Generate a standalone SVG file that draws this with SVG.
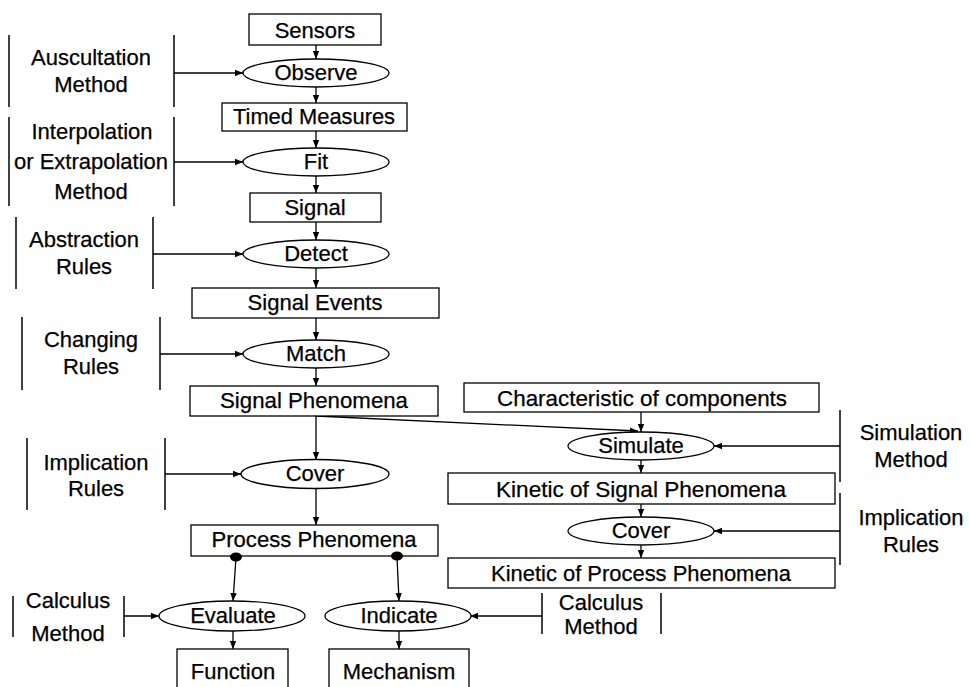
<svg xmlns="http://www.w3.org/2000/svg" width="970" height="687" viewBox="0 0 970 687">
<defs>
<marker id="ah" markerWidth="8" markerHeight="8" refX="8" refY="4" orient="auto" markerUnits="userSpaceOnUse">
<path d="M0,0.8 L8,4 L0,7.2 Z" fill="#000"/>
</marker>
<style>
text{font-family:"Liberation Sans",Arial,sans-serif;font-size:22px;fill:#000;stroke:#000;stroke-width:0.25;text-anchor:middle}
.b{fill:#fff;stroke:#000;stroke-width:1.3}
.c line{stroke:#000;stroke-width:1.3;fill:none}
.a{marker-end:url(#ah)}
.bar{stroke:#000;stroke-width:1.5}
.dot{fill:#000}
</style>
</defs>
<rect width="970" height="687" fill="#fff"/>

<g class="c" id="connectors">
<line class="a" x1="316" y1="45" x2="316" y2="59"/>
<line class="a" x1="316" y1="87" x2="316" y2="103"/>
<line class="a" x1="316" y1="131" x2="316" y2="148"/>
<line class="a" x1="316" y1="176" x2="316" y2="193"/>
<line class="a" x1="316" y1="222" x2="316" y2="240"/>
<line class="a" x1="316" y1="268" x2="316" y2="288"/>
<line class="a" x1="316" y1="318" x2="316" y2="340"/>
<line class="a" x1="316" y1="368" x2="316" y2="386"/>
<line class="a" x1="316" y1="416" x2="316" y2="460"/>
<line class="a" x1="316" y1="489" x2="316" y2="525"/>
<line class="a" x1="316" y1="416" x2="638" y2="431"/>
<line class="a" x1="641" y1="412" x2="641" y2="432"/>
<line class="a" x1="641" y1="460" x2="641" y2="473"/>
<line class="a" x1="641" y1="504" x2="641" y2="517"/>
<line class="a" x1="641" y1="545" x2="641" y2="558"/>
<line class="a" x1="236" y1="558" x2="233" y2="601"/>
<line class="a" x1="397" y1="557" x2="399" y2="601"/>
<line class="a" x1="233" y1="631" x2="233" y2="649"/>
<line class="a" x1="399" y1="631" x2="399" y2="649"/>
<line class="a" x1="174" y1="73" x2="243" y2="73"/>
<line class="a" x1="174" y1="162" x2="243" y2="162"/>
<line class="a" x1="153" y1="254" x2="243" y2="254"/>
<line class="a" x1="160" y1="354" x2="243" y2="354"/>
<line class="a" x1="165" y1="474" x2="241" y2="474"/>
<line class="a" x1="124" y1="616" x2="159" y2="616"/>
<line class="a" x1="542" y1="616" x2="470" y2="616"/>
<line class="a" x1="840" y1="446" x2="714" y2="446"/>
<line class="a" x1="840" y1="531" x2="714" y2="531"/>
</g>

<g id="sensors"><rect class="b" x="249" y="14" width="132" height="31"/><text x="315" y="38">Sensors</text></g>
<g id="observe"><ellipse class="b" cx="316" cy="73" rx="73" ry="14"/><text x="316" y="80">Observe</text></g>
<g id="timed-measures"><rect class="b" x="222" y="103" width="185" height="28"/><text x="314" y="124" textLength="162" lengthAdjust="spacingAndGlyphs">Timed Measures</text></g>
<g id="fit"><ellipse class="b" cx="316" cy="162" rx="73" ry="14"/><text x="316" y="169">Fit</text></g>
<g id="signal"><rect class="b" x="250" y="193" width="131" height="29"/><text x="315" y="215">Signal</text></g>
<g id="detect"><ellipse class="b" cx="316" cy="254" rx="73" ry="14"/><text x="316" y="261">Detect</text></g>
<g id="signal-events"><rect class="b" x="192" y="288" width="247" height="30"/><text x="315" y="310" textLength="135" lengthAdjust="spacingAndGlyphs">Signal Events</text></g>
<g id="match"><ellipse class="b" cx="316" cy="354" rx="73" ry="14"/><text x="316" y="361">Match</text></g>
<g id="signal-phenomena"><rect class="b" x="190" y="386" width="248" height="30"/><text x="314" y="408" textLength="188" lengthAdjust="spacingAndGlyphs">Signal Phenomena</text></g>
<g id="cover-left"><ellipse class="b" cx="315" cy="474" rx="74" ry="14.5"/><text x="315" y="481">Cover</text></g>
<g id="process-phenomena"><rect class="b" x="191" y="525" width="247" height="31"/><text x="314" y="547" textLength="205" lengthAdjust="spacingAndGlyphs">Process Phenomena</text><ellipse class="dot" cx="236" cy="557" rx="6" ry="4.5"/><ellipse class="dot" cx="397" cy="556" rx="6" ry="4.5"/></g>
<g id="evaluate"><ellipse class="b" cx="232" cy="616" rx="73" ry="15"/><text x="233" y="623">Evaluate</text></g>
<g id="indicate"><ellipse class="b" cx="398" cy="616" rx="73" ry="15"/><text x="399" y="623">Indicate</text></g>
<g id="function"><rect class="b" x="177" y="649" width="111" height="42"/><text x="233" y="679">Function</text></g>
<g id="mechanism"><rect class="b" x="329" y="649" width="140" height="42"/><text x="399" y="679">Mechanism</text></g>

<g id="characteristic"><rect class="b" x="464" y="383" width="355" height="29"/><text x="642" y="406" textLength="290" lengthAdjust="spacingAndGlyphs">Characteristic of components</text></g>
<g id="simulate"><ellipse class="b" cx="641" cy="446" rx="73" ry="14"/><text x="641" y="453">Simulate</text></g>
<g id="kinetic-signal"><rect class="b" x="448" y="473" width="387" height="31"/><text x="641" y="497" textLength="290" lengthAdjust="spacingAndGlyphs">Kinetic of Signal Phenomena</text></g>
<g id="cover-right"><ellipse class="b" cx="641" cy="531" rx="73" ry="14"/><text x="641" y="538">Cover</text></g>
<g id="kinetic-process"><rect class="b" x="448" y="558" width="387" height="30"/><text x="641" y="581" textLength="300" lengthAdjust="spacingAndGlyphs">Kinetic of Process Phenomena</text></g>

<g id="auscultation-method"><line class="bar" x1="9" y1="35" x2="9" y2="107"/><line class="bar" x1="174" y1="35" x2="174" y2="107"/><text x="91" y="65">Auscultation</text><text x="91" y="92">Method</text></g>
<g id="interpolation-method"><line class="bar" x1="9" y1="117" x2="9" y2="206"/><line class="bar" x1="174" y1="117" x2="174" y2="206"/><text x="92" y="139">Interpolation</text><text x="91" y="169">or Extrapolation</text><text x="91" y="199">Method</text></g>
<g id="abstraction-rules"><line class="bar" x1="16" y1="217" x2="16" y2="289"/><line class="bar" x1="153" y1="217" x2="153" y2="289"/><text x="84" y="247">Abstraction</text><text x="84" y="274">Rules</text></g>
<g id="changing-rules"><line class="bar" x1="22" y1="317" x2="22" y2="390"/><line class="bar" x1="160" y1="317" x2="160" y2="390"/><text x="91" y="347">Changing</text><text x="91" y="374">Rules</text></g>
<g id="implication-rules-left"><line class="bar" x1="27" y1="438" x2="27" y2="510"/><line class="bar" x1="165" y1="438" x2="165" y2="510"/><text x="96" y="470">Implication</text><text x="96" y="496">Rules</text></g>
<g id="calculus-method-left"><line class="bar" x1="13" y1="596" x2="13" y2="637"/><line class="bar" x1="124" y1="596" x2="124" y2="637"/><text x="68" y="608">Calculus</text><text x="68" y="641">Method</text></g>
<g id="calculus-method-right"><line class="bar" x1="542" y1="593" x2="542" y2="634"/><line class="bar" x1="661" y1="593" x2="661" y2="634"/><text x="601" y="610">Calculus</text><text x="601" y="634">Method</text></g>
<g id="simulation-method"><line class="bar" x1="840" y1="410" x2="840" y2="482"/><text x="911" y="440">Simulation</text><text x="911" y="467">Method</text></g>
<g id="implication-rules-right"><line class="bar" x1="840" y1="493" x2="840" y2="565"/><text x="911" y="525">Implication</text><text x="911" y="552">Rules</text></g>
</svg>
